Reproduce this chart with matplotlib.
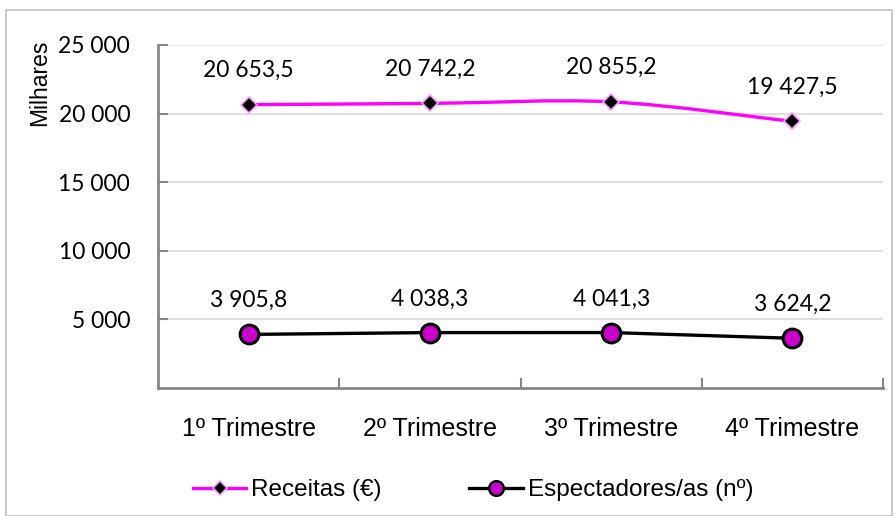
import matplotlib.pyplot as plt
from matplotlib.path import Path
from matplotlib.patches import PathPatch, Rectangle
from matplotlib.lines import Line2D
import numpy as np

# Dados
trimestres = ['1º Trimestre', '2º Trimestre', '3º Trimestre', '4º Trimestre']
receitas = [20653.5, 20742.2, 20855.2, 19427.5]
espectadores = [3905.8, 4038.3, 4041.3, 3624.2]
rotulos_receitas = ['20 653,5', '20 742,2', '20 855,2', '19 427,5']
rotulos_espectadores = ['3 905,8', '4 038,3', '4 041,3', '3 624,2']
yticks = [5000, 10000, 15000, 20000, 25000]
ytick_labels = ['5 000', '10 000', '15 000', '20 000', '25 000']

ROSA = '#FF00FF'
MAGENTA = '#CC00CC'
CINZA = '#868686'


def caminho_suave(x, y, t=1/6):
    # curva Bezier ao estilo "linha suavizada" do Excel
    verts = [(x[0], y[0])]
    codes = [Path.MOVETO]
    n = len(x)
    for i in range(n - 1):
        x0, y0 = (x[i - 1], y[i - 1]) if i > 0 else (x[i], y[i])
        x3, y3 = (x[i + 2], y[i + 2]) if i + 2 < n else (x[i + 1], y[i + 1])
        c1 = (x[i] + (x[i + 1] - x0) * t, y[i] + (y[i + 1] - y0) * t)
        c2 = (x[i + 1] - (x3 - x[i]) * t, y[i + 1] - (y3 - y[i]) * t)
        verts += [c1, c2, (x[i + 1], y[i + 1])]
        codes += [Path.CURVE4] * 3
    return Path(verts, codes)


fig = plt.figure(figsize=(8.96, 5.16), dpi=100)
fig.patches.append(Rectangle((6 / 896, 0), 886 / 896, 506 / 516, transform=fig.transFigure,
                             fill=False, edgecolor='#BFBFBF', linewidth=1.2))

ax = fig.add_axes([158 / 896, 1 - 388 / 516, 725 / 896, 343 / 516])
x = np.arange(len(trimestres))

ax.add_patch(PathPatch(caminho_suave(x, receitas), fill=False, edgecolor=ROSA,
                       linewidth=2.4, zorder=3))
ax.plot(x, receitas, linestyle='none', marker='D', markersize=8.5,
        markerfacecolor='black', markeredgecolor='#FF99FF', markeredgewidth=1.2, zorder=4)
ax.plot(x, espectadores, color='black', linewidth=2.4, marker='o', markersize=13.5,
        markerfacecolor=MAGENTA, markeredgecolor='black', markeredgewidth=2.2, zorder=4)

for xi, v, s in zip(x, receitas, rotulos_receitas):
    ax.annotate(s, (xi, v), xytext=(0, 20), textcoords='offset points', ha='center',
                va='baseline', fontsize=16.5, family='Lato')
for xi, v, s in zip(x, espectadores, rotulos_espectadores):
    ax.annotate(s, (xi, v), xytext=(0, 19.5), textcoords='offset points', ha='center',
                va='baseline', fontsize=16.5, family='Lato')

ax.set_xlim(-0.5, 3.5)
ax.set_ylim(0, 25000)
ax.set_yticks(yticks)
ax.set_yticklabels(ytick_labels, fontsize=16.5, family='Lato')
ax.set_xticks(x)
ax.set_xticklabels(trimestres, fontsize=18, family='Liberation Sans')
ax.set_xticks([0.5, 1.5, 2.5, 3.5], minor=True)
ax.tick_params(axis='x', which='major', length=0, pad=21)
ax.tick_params(axis='x', which='minor', direction='in', length=7, color=CINZA, width=1.5)
ax.tick_params(axis='y', direction='in', length=7, color=CINZA, width=1.5, pad=20)
ax.grid(axis='y', color='#D9D9D9', linewidth=1.2)
ax.set_axisbelow(True)
for s in ['top', 'right']:
    ax.spines[s].set_visible(False)
for s in ['left', 'bottom']:
    ax.spines[s].set_color(CINZA)
    ax.spines[s].set_linewidth(2)

fig.text(40 / 896, 1 - 83 / 516, 'Milhares', rotation=90, ha='center', va='center',
         fontsize=16.5, family='Liberation Sans')

handles = [
    Line2D([], [], color=ROSA, linewidth=2.4, marker='D', markersize=7.5,
           markerfacecolor='black', markeredgecolor='#FF99FF', markeredgewidth=1.1),
    Line2D([], [], color='black', linewidth=2.4, marker='o', markersize=10.5,
           markerfacecolor=MAGENTA, markeredgecolor='black', markeredgewidth=1.8),
]
fig.legend(handles, ['Receitas (€)', 'Espectadores/as (nº)'], loc='center',
           bbox_to_anchor=(473 / 896, 1 - 490 / 516), ncol=2, frameon=False,
           prop={'family': 'Liberation Sans', 'size': 17.5}, handlelength=2.2,
           handletextpad=0.2, columnspacing=3.6, borderpad=0, borderaxespad=0)

fig.savefig('out.png', dpi=100)
